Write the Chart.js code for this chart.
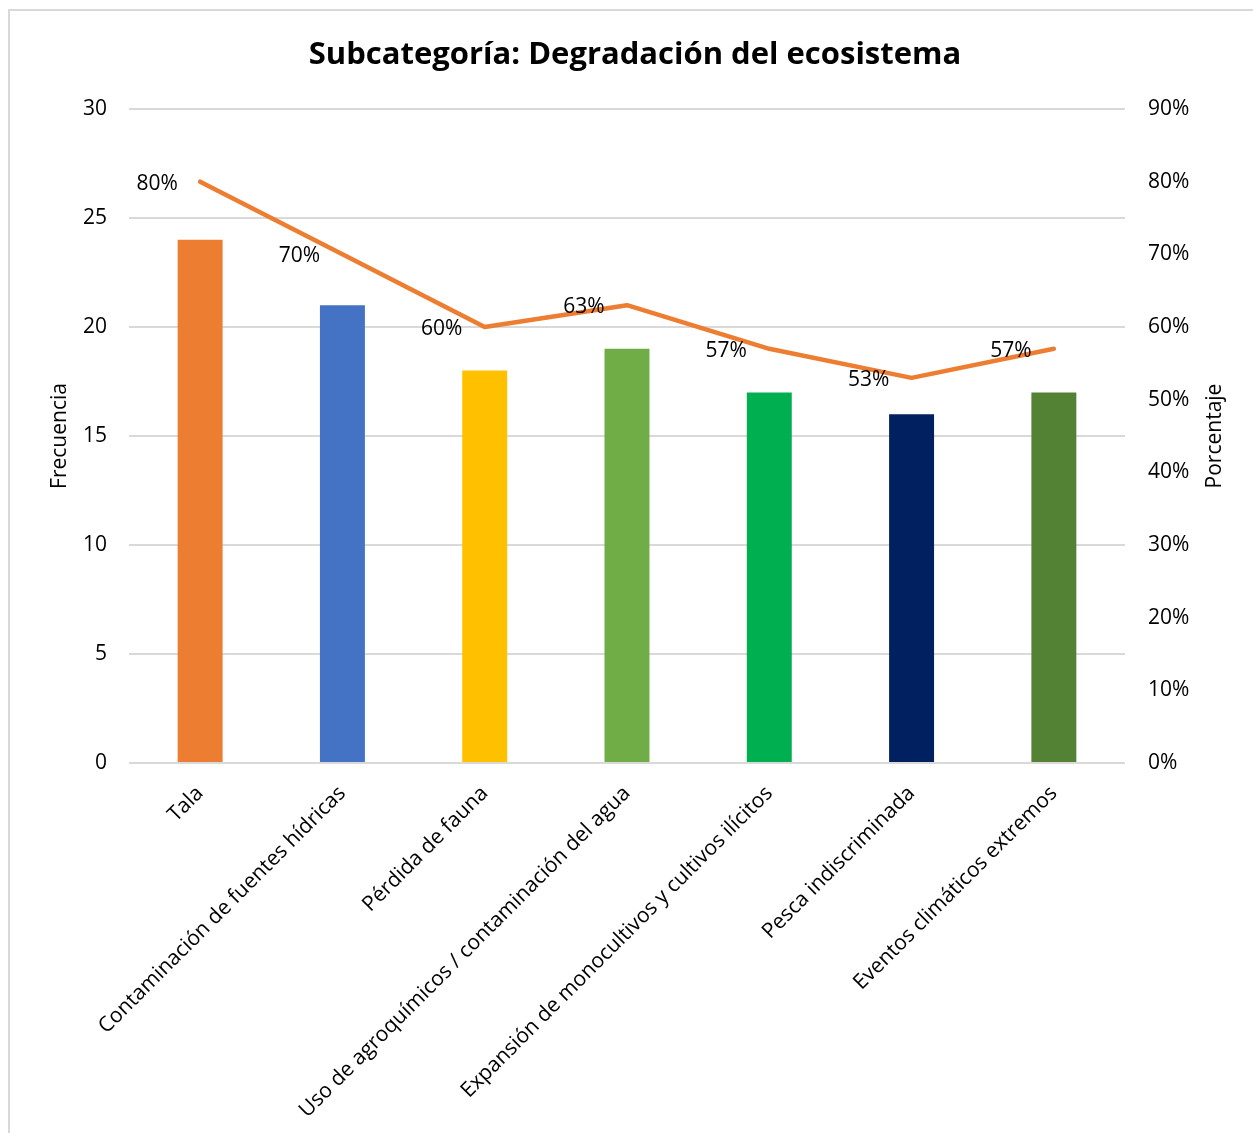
<!DOCTYPE html>
<html>
<head>
<meta charset="utf-8">
<script src="https://cdn.jsdelivr.net/npm/chart.js@4.4.1/dist/chart.umd.min.js"></script>
<style>
  html, body { margin: 0; padding: 0; background: #fff; }
  #wrap { position: absolute; left: 0; top: 0; width: 1253px; height: 1133px; }
</style>
</head>
<body>
<div id="wrap"><canvas id="c" width="1253" height="1133"></canvas></div>
<script>
const categories = [
  "Tala",
  "Contaminación de fuentes hídricas",
  "Pérdida de fauna",
  "Uso de agroquímicos / contaminación del agua",
  "Expansión de monocultivos y cultivos ilícitos",
  "Pesca indiscriminada",
  "Eventos climáticos extremos"
];
const frecuencia = [24, 21, 18, 19, 17, 16, 17];
const porcentaje = [80, 70, 60, 63, 57, 53, 57];
const barColors = ["#ED7D31", "#4472C4", "#FFC000", "#70AD47", "#00B050", "#002060", "#548235"];
const leftTicks = [0, 5, 10, 15, 20, 25, 30];
const rightTicks = [0, 10, 20, 30, 40, 50, 60, 70, 80, 90];
const titleText = 'Subcategoría: Degradación del ecosistema';

const FONT = "'Open Sans', sans-serif";
const FS = 21;

const framePlugin = {
  id: 'frame',
  beforeDraw(chart) {
    const ctx = chart.ctx;
    ctx.save();
    ctx.fillStyle = '#fff';
    ctx.fillRect(0, 0, chart.width, chart.height);
    ctx.strokeStyle = '#D9D9D9';
    ctx.lineWidth = 2;
    ctx.beginPath();
    ctx.moveTo(9, chart.height + 5);
    ctx.lineTo(9, 10);
    ctx.lineTo(chart.width + 5, 10);
    ctx.stroke();
    // title
    ctx.fillStyle = '#000';
    ctx.font = 'bold 31px ' + FONT;
    ctx.textAlign = 'center';
    ctx.textBaseline = 'middle';
    ctx.fillText(titleText, 635, 55);
    ctx.restore();
  }
};

const labelPlugin = {
  id: 'lineLabels',
  afterDatasetsDraw(chart) {
    const ctx = chart.ctx;
    const meta = chart.getDatasetMeta(1);
    ctx.save();
    ctx.font = FS + "px " + FONT;
    ctx.fillStyle = '#000';
    ctx.textAlign = 'center';
    ctx.textBaseline = 'middle';
    meta.data.forEach((pt, i) => {
      ctx.fillText(porcentaje[i] + '%', pt.x - 43, pt.y + 2);
    });
    // axis titles
    const ca = chart.chartArea;
    const cy = (ca.top + ca.bottom) / 2;
    ctx.translate(60, cy);
    ctx.rotate(-Math.PI / 2);
    ctx.fillText('Frecuencia', 0, 0);
    ctx.rotate(Math.PI / 2);
    ctx.translate(1215 - 60, 0);
    ctx.rotate(-Math.PI / 2);
    ctx.fillText('Porcentaje', 0, 0);
    ctx.restore();
  }
};

new Chart(document.getElementById('c'), {
  type: 'bar',
  data: {
    labels: categories,
    datasets: [
      {
        type: 'bar',
        label: 'Frecuencia',
        data: frecuencia,
        backgroundColor: barColors,
        yAxisID: 'y',
        categoryPercentage: 1,
        barPercentage: 0.316,
        order: 2
      },
      {
        type: 'line',
        label: 'Porcentaje',
        data: porcentaje,
        borderColor: '#ED7D31',
        borderWidth: 4.5,
        borderCapStyle: 'round',
        borderJoinStyle: 'round',
        pointRadius: 0,
        pointHoverRadius: 0,
        tension: 0,
        fill: false,
        yAxisID: 'y1',
        order: 1
      }
    ]
  },
  options: {
    responsive: false,
    animation: false,
    events: [],
    layout: { padding: { top: 109, left: 0, right: 0, bottom: 0 } },
    plugins: {
      legend: { display: false },
      tooltip: { enabled: false },
      title: { display: false }
    },
    scales: {
      x: {
        grid: { display: false },
        border: { display: false },
        ticks: {
          autoSkip: false,
          maxRotation: 45,
          minRotation: 45,
          color: '#000',
          padding: 10,
          font: { family: FONT, size: FS }
        },
        afterFit(scale) { scale.height = 370; }
      },
      y: {
        position: 'left',
        min: 0,
        max: 30,
        afterBuildTicks(scale) { scale.ticks = leftTicks.map(v => ({ value: v })); },
        grid: { color: '#D9D9D9', lineWidth: 2, drawTicks: false },
        border: { display: false },
        ticks: {
          color: '#000',
          padding: 22,
          font: { family: FONT, size: FS }
        },
        afterFit(scale) { scale.width = 129; }
      },
      y1: {
        position: 'right',
        min: 0,
        max: 90,
        afterBuildTicks(scale) { scale.ticks = rightTicks.map(v => ({ value: v })); },
        grid: { display: false, drawTicks: false },
        border: { display: false },
        ticks: {
          color: '#000',
          padding: 23,
          font: { family: FONT, size: FS },
          callback: v => v + '%'
        },
        afterFit(scale) { scale.width = 128; }
      }
    }
  },
  plugins: [framePlugin, labelPlugin]
});
</script>
</body>
</html>
